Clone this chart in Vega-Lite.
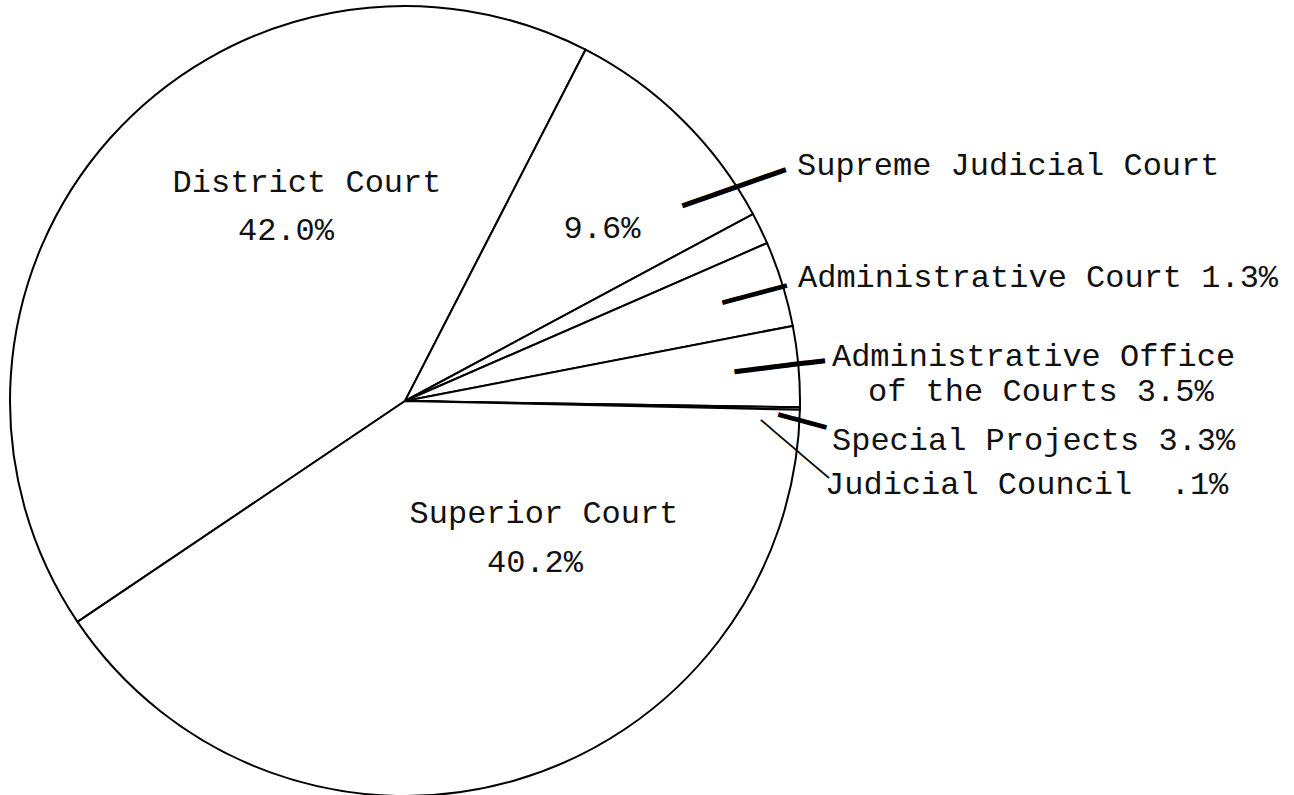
{
  "$schema": "https://vega.github.io/schema/vega-lite/v6.json",
  "width": 810,
  "height": 788,
  "autosize": "none",
  "padding": {"left": 0, "top": 7, "right": 484, "bottom": 0},
  "background": "white",
  "config": {"view": {"stroke": null}},
  "data": {"values": [
    {"court": "District Court", "share": 42.0, "label1": "District Court", "label2": "42.0%"},
    {"court": "Supreme Judicial Court", "share": 9.6, "label1": "Supreme Judicial Court", "label2": "9.6%"},
    {"court": "Administrative Court", "share": 1.3, "label1": "Administrative Court 1.3%", "label2": ""},
    {"court": "Administrative Office of the Courts", "share": 3.5, "label1": "Administrative Office", "label2": "of the Courts 3.5%"},
    {"court": "Special Projects", "share": 3.3, "label1": "Special Projects 3.3%", "label2": ""},
    {"court": "Judicial Council", "share": 0.1, "label1": "Judicial Council\u00a0 .1%", "label2": ""},
    {"court": "Superior Court", "share": 40.2, "label1": "Superior Court", "label2": "40.2%"}
  ]},
  "transform": [{"stack": "share", "groupby": [], "as": ["start", "end"]}],
  "encoding": {
    "theta": {"field": "start", "type": "quantitative", "stack": null,
      "scale": {"domain": [0, 100], "range": [4.118977, 10.402162]}}
  },
  "layer": [
    {"mark": {"type": "arc", "outerRadius": 395, "fill": "white", "stroke": "black", "strokeWidth": 2},
     "encoding": {"theta2": {"field": "end"}}},

    {"transform": [{"filter": "datum.court === 'District Court'"}],
     "mark": {"type": "text", "radius": 230.8, "thetaOffset": 1.7258, "align": "center", "baseline": "alphabetic", "font": "Liberation Mono", "fontSize": 32, "color": "#111"},
     "encoding": {"text": {"field": "label1"}}},
    {"transform": [{"filter": "datum.court === 'District Court'"}],
     "mark": {"type": "text", "radius": 200.2, "thetaOffset": 1.5277, "align": "center", "baseline": "alphabetic", "font": "Liberation Mono", "fontSize": 32, "color": "#111"},
     "encoding": {"text": {"field": "label2"}}},
    {"transform": [{"filter": "datum.court === 'Supreme Judicial Court'"}],
     "mark": {"type": "text", "radius": 255.7, "thetaOffset": 0.4047, "align": "center", "baseline": "alphabetic", "font": "Liberation Mono", "fontSize": 32, "color": "#111"},
     "encoding": {"text": {"field": "label2"}}},
    {"transform": [{"filter": "datum.court === 'Superior Court'"}],
     "mark": {"type": "text", "radius": 184.9, "thetaOffset": 0.6979, "align": "center", "baseline": "alphabetic", "font": "Liberation Mono", "fontSize": 32, "color": "#111"},
     "encoding": {"text": {"field": "label1"}}},
    {"transform": [{"filter": "datum.court === 'Superior Court'"}],
     "mark": {"type": "text", "radius": 214.8, "thetaOffset": 0.8985, "align": "center", "baseline": "alphabetic", "font": "Liberation Mono", "fontSize": 32, "color": "#111"},
     "encoding": {"text": {"field": "label2"}}},

    {"transform": [{"filter": "datum.court === 'Supreme Judicial Court'"}],
     "mark": {"type": "text", "radius": 452.5, "thetaOffset": 0.5730, "align": "left", "baseline": "alphabetic", "font": "Liberation Mono", "fontSize": 32, "color": "#111"},
     "encoding": {"text": {"field": "label1"}}},
    {"transform": [{"filter": "datum.court === 'Administrative Court'"}],
     "mark": {"type": "text", "radius": 409.2, "thetaOffset": 0.2105, "align": "left", "baseline": "alphabetic", "font": "Liberation Mono", "fontSize": 32, "color": "#111"},
     "encoding": {"text": {"field": "label1"}}},
    {"transform": [{"filter": "datum.court === 'Administrative Office of the Courts'"}],
     "mark": {"type": "text", "radius": 428.4, "thetaOffset": 0.3293, "align": "left", "baseline": "alphabetic", "font": "Liberation Mono", "fontSize": 32, "color": "#111"},
     "encoding": {"text": {"field": "label1"}}},
    {"transform": [{"filter": "datum.court === 'Administrative Office of the Courts'"}],
     "mark": {"type": "text", "radius": 463.0, "thetaOffset": 0.4112, "align": "left", "baseline": "alphabetic", "font": "Liberation Mono", "fontSize": 32, "color": "#111"},
     "encoding": {"text": {"field": "label2"}}},
    {"transform": [{"filter": "datum.court === 'Special Projects'"}],
     "mark": {"type": "text", "radius": 429.8, "thetaOffset": 0.3056, "align": "left", "baseline": "alphabetic", "font": "Liberation Mono", "fontSize": 32, "color": "#111"},
     "encoding": {"text": {"field": "label1"}}},
    {"transform": [{"filter": "datum.court === 'Judicial Council'"}],
     "mark": {"type": "text", "radius": 430.2, "thetaOffset": 0.2019, "align": "left", "baseline": "alphabetic", "font": "Liberation Mono", "fontSize": 32, "color": "#111"},
     "encoding": {"text": {"field": "label1"}}},

    {"transform": [{"filter": "datum.court === 'Supreme Judicial Court'"}],
     "mark": {"type": "text", "radius": 339.0, "thetaOffset": 0.4868, "angle": -19.26, "align": "left", "baseline": "middle", "font": "DejaVu Sans Mono", "fontSize": 30.2, "color": "black"},
     "encoding": {"text": {"value": "━━━━━━"}}},
    {"transform": [{"filter": "datum.court === 'Administrative Court'"}],
     "mark": {"type": "text", "radius": 332.5, "thetaOffset": 0.1969, "angle": -14.88, "align": "left", "baseline": "middle", "font": "DejaVu Sans Mono", "fontSize": 27.5, "color": "black"},
     "encoding": {"text": {"value": "━━━━"}}},
    {"transform": [{"filter": "datum.court === 'Administrative Office of the Courts'"}],
     "mark": {"type": "text", "radius": 331.2, "thetaOffset": 0.3266, "angle": -6.97, "align": "left", "baseline": "middle", "font": "DejaVu Sans Mono", "fontSize": 30.1, "color": "black"},
     "encoding": {"text": {"value": "━━━━━"}}},
    {"transform": [{"filter": "datum.court === 'Special Projects'"}],
     "mark": {"type": "text", "radius": 373.3, "thetaOffset": 0.2314, "angle": 15.15, "align": "left", "baseline": "middle", "font": "DejaVu Sans Mono", "fontSize": 27.5, "color": "black"},
     "encoding": {"text": {"value": "━━━"}}},
    {"transform": [{"filter": "datum.court === 'Judicial Council'"}],
     "mark": {"type": "text", "radius": 355.6, "thetaOffset": 0.0401, "angle": 40.46, "align": "left", "baseline": "middle", "font": "DejaVu Sans Mono", "fontSize": 21.2, "color": "black"},
     "encoding": {"text": {"value": "───────"}}}
  ]
}
